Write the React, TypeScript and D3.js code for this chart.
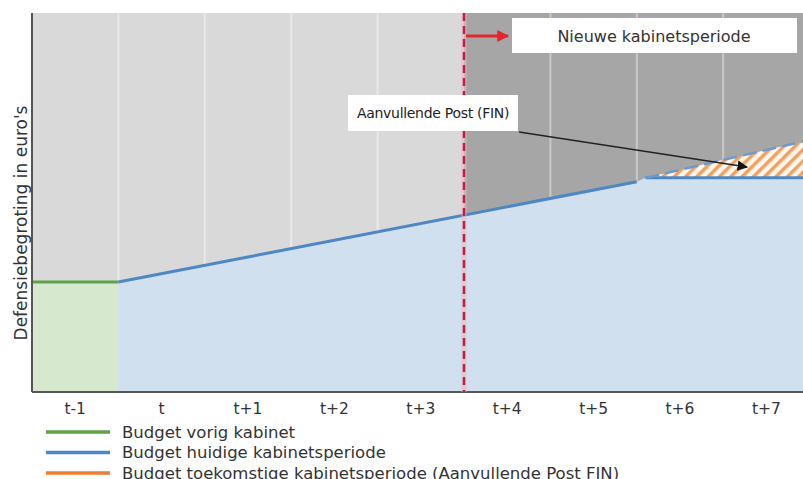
import * as React from 'react';
import * as d3 from 'd3';

const PERIODS = ['t-1', 't', 't+1', 't+2', 't+3', 't+4', 't+5', 't+6', 't+7'];

// budget points: i = period boundary index, v = budget (arbitrary units)
const PREVIOUS = [
    { i: 0, v: 29 },
    { i: 1, v: 29 }
];
const CURRENT = [
    { i: 1, v: 29 },
    { i: 7, v: 55.5 }
];
const CURRENT_FLAT = [
    { i: 7.1, v: 56.5 },
    { i: 9, v: 56.5 }
];
const FUTURE = [
    { i: 7.1, v: 56.5 },
    { i: 9, v: 66.5 }
];
const NEW_PERIOD_START = 5;

const LEGEND = [
    { label: 'Budget vorig kabinet', color: '#5fa346' },
    { label: 'Budget huidige kabinetsperiode', color: '#4d88c4' },
    { label: 'Budget toekomstige kabinetsperiode (Aanvullende Post FIN)', color: '#ed7d31' }
];

interface Pt {
    i: number;
    v: number;
}

const W = 803;
const H = 479;
const FONT = 'DejaVu Sans, Verdana, sans-serif';

export default function App() {
    const MARGIN = { top: 13, left: 32, bottom: 392 };
    const BAND = 86.4;

    const x = d3.scaleLinear().domain([0, PERIODS.length]).range([MARGIN.left, MARGIN.left + BAND * PERIODS.length]);
    const y = d3.scaleLinear().domain([0, 100]).range([MARGIN.bottom, MARGIN.top]);

    const line = d3
        .line<Pt>()
        .x(d => x(d.i))
        .y(d => y(d.v));
    const area = d3
        .area<Pt>()
        .x(d => x(d.i))
        .y0(y(0))
        .y1(d => y(d.v));

    const blueFill = [...CURRENT, ...CURRENT_FLAT];
    const hatch = [...CURRENT_FLAT, ...FUTURE.slice().reverse()];
    const redX = x(NEW_PERIOD_START);

    return (
        <svg width={W} height={H} style={{ position: 'absolute', left: 0, top: 0, background: '#fff' }}>
            <defs>
                <pattern id="hatch" patternUnits="userSpaceOnUse" width={8} height={8} patternTransform="rotate(45)">
                    <rect width={8} height={8} fill="#fdf6ec" />
                    <rect width={3.5} height={8} fill="#efa264" />
                </pattern>
                <marker id="arrow" viewBox="0 0 10 10" refX={9} refY={5} markerWidth={7} markerHeight={7} orient="auto">
                    <path d="M0,0 L10,5 L0,10 z" fill="#111" />
                </marker>
                <marker id="redArrow" viewBox="0 0 10 10" refX={9} refY={5} markerWidth={4} markerHeight={4} orient="auto">
                    <path d="M0,0 L10,5 L0,10 z" fill="#e3262b" />
                </marker>
            </defs>

            {/* backgrounds */}
            <rect x={x(0)} y={y(100)} width={redX - x(0)} height={y(0) - y(100)} fill="#d9d9d9" />
            <rect x={redX} y={y(100)} width={x(PERIODS.length) - redX} height={y(0) - y(100)} fill="#a6a6a6" />

            {/* grid */}
            {d3.range(1, PERIODS.length).map(k =>
                k === NEW_PERIOD_START ? null : (
                    <line
                        key={k}
                        x1={x(k)}
                        x2={x(k)}
                        y1={y(100)}
                        y2={y(0)}
                        stroke={k < NEW_PERIOD_START ? '#e9e9e9' : '#c9c9c9'}
                        strokeWidth={2}
                    />
                )
            )}

            {/* areas */}
            <path d={area(PREVIOUS) ?? ''} fill="#d6e9cf" />
            <path d={area(blueFill) ?? ''} fill="#d0e0ee" />
            <path d={(line(hatch) ?? '') + 'Z'} fill="url(#hatch)" />

            {/* lines */}
            <path d={line(PREVIOUS) ?? ''} fill="none" stroke="#5fa346" strokeWidth={3} />
            <path d={line(CURRENT) ?? ''} fill="none" stroke="#4d88c4" strokeWidth={3} />
            <path d={line(CURRENT_FLAT) ?? ''} fill="none" stroke="#4d88c4" strokeWidth={3} />
            <path d={line(FUTURE) ?? ''} fill="none" stroke="#6a9bd0" strokeWidth={2.5} strokeDasharray="14 6" />

            {/* axes */}
            <line x1={x(0)} x2={x(0)} y1={y(100)} y2={y(0)} stroke="#555" strokeWidth={2} />
            <line x1={x(0)} x2={x(PERIODS.length)} y1={y(0)} y2={y(0)} stroke="#555" strokeWidth={2} />

            {/* new period marker */}
            <line x1={redX} x2={redX} y1={y(100)} y2={y(0)} stroke="#f3b6c4" strokeWidth={5} opacity={0.6} />
            <line x1={redX} x2={redX} y1={y(100)} y2={y(0)} stroke="#c41d45" strokeWidth={2.5} strokeDasharray="8 5" />
            <line x1={redX + 2} x2={redX + 44} y1={36} y2={36} stroke="#e3262b" strokeWidth={3} markerEnd="url(#redArrow)" />
            <rect x={512} y={18} width={285} height={35} fill="#fff" />
            <text x={654} y={42} textAnchor="middle" fontFamily={FONT} fontSize={16} fill="#333" fontWeight={500}>
                Nieuwe kabinetsperiode
            </text>

            {/* annotation */}
            <line x1={519} y1={132} x2={747} y2={167} stroke="#222" strokeWidth={1.5} markerEnd="url(#arrow)" />
            <rect x={348} y={95} width={170} height={36} fill="#fff" />
            <text x={433} y={118} textAnchor="middle" fontFamily={FONT} fontSize={14} fill="#222" letterSpacing={-0.3}>
                Aanvullende Post (FIN)
            </text>

            {/* y label */}
            <text
                transform={`translate(27,${223}) rotate(-90)`}
                textAnchor="middle"
                fontFamily={FONT}
                fontSize={17}
                fill="#333"
            >
                Defensiebegroting in euro's
            </text>

            {/* x ticks */}
            {PERIODS.map((p, k) => (
                <text key={p} x={x(k + 0.5)} y={414} textAnchor="middle" fontFamily={FONT} fontSize={15.5} fill="#333">
                    {p}
                </text>
            ))}

            {/* legend */}
            {LEGEND.map((l, k) => (
                <g key={l.label} transform={`translate(0,${432 + k * 20.5})`}>
                    <line x1={46} x2={110} y1={0} y2={0} stroke={l.color} strokeWidth={3.5} />
                    <text x={122} y={5.5} fontFamily={FONT} fontSize={16.5} fill="#333">
                        {l.label}
                    </text>
                </g>
            ))}
        </svg>
    );
}
